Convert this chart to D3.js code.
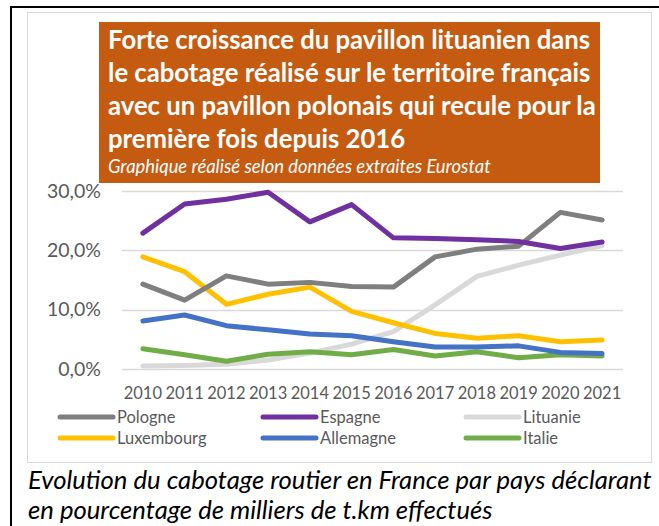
<!DOCTYPE html>
<html>
<head>
<meta charset="utf-8">
<script src="https://cdn.jsdelivr.net/npm/d3@7"></script>
<style>
  body { margin: 0; background: #fff; }
  svg { display: block; font-family: Lato, "Open Sans", sans-serif; }
</style>
</head>
<body>
<svg width="659" height="526"></svg>
<script>
// years on the category axis
var years = ["2010","2011","2012","2013","2014","2015","2016","2017","2018","2019","2020","2021"];

// share of t.km per flag, in %
var pologne    = [14.3, 11.6, 15.7, 14.3, 14.6, 13.9, 13.8, 18.9, 20.2, 20.7, 26.4, 25.1];
var espagne    = [22.9, 27.8, 28.6, 29.8, 24.8, 27.7, 22.1, 22.0, 21.8, 21.5, 20.3, 21.4];
var lituanie   = [0.5, 0.6, 0.8, 1.5, 2.7, 4.2, 6.3, 10.8, 15.6, 17.5, 19.2, 20.8];
var luxembourg = [18.9, 16.4, 10.9, 12.6, 13.8, 9.7, 7.8, 6.0, 5.2, 5.6, 4.6, 4.9];
var allemagne  = [8.1, 9.1, 7.3, 6.6, 5.9, 5.6, 4.6, 3.7, 3.7, 3.9, 2.8, 2.6];
var italie     = [3.4, 2.4, 1.3, 2.5, 2.9, 2.4, 3.3, 2.2, 2.9, 1.9, 2.4, 2.2];

var yTicks = [0, 10, 20, 30];

var titleLines = [
  "Forte croissance du pavillon lituanien dans",
  "le cabotage réalisé sur le territoire français",
  "avec un pavillon polonais qui recule pour la",
  "première fois depuis 2016"
];
var subTitle = "Graphique réalisé selon données extraites Eurostat";
var captionLines = [
  "Evolution du cabotage routier en France par pays déclarant",
  "en pourcentage de milliers de t.km effectués"
];

var series = [
  {name: "Pologne",    values: pologne,    color: "#7f7f7f"},
  {name: "Espagne",    values: espagne,    color: "#7030a0"},
  {name: "Lituanie",   values: lituanie,   color: "#d9d9d9"},
  {name: "Luxembourg", values: luxembourg, color: "#ffc000"},
  {name: "Allemagne",  values: allemagne,  color: "#4472c4"},
  {name: "Italie",     values: italie,     color: "#70ad47"}
];
// order in which the lines are painted (first = bottom)
var drawOrder = ["Lituanie", "Italie", "Allemagne", "Luxembourg", "Pologne", "Espagne"];

var svg = d3.select("svg");

// font size that makes a text node span a given width
function fitSize(sel, target) {
  var size = parseFloat(sel.attr("font-size"));
  var w = sel.node().getComputedTextLength();
  return size * target / w;
}

// outer black frame (top and left edges only)
svg.append("path")
    .attr("d", "M11,526V7H659")
    .attr("fill", "none")
    .attr("stroke", "#000")
    .attr("stroke-width", 2);

// light chart frame
svg.append("rect")
    .attr("x", 27.5).attr("y", 12.5)
    .attr("width", 624).attr("height", 450)
    .attr("fill", "#fff")
    .attr("stroke", "#d9d9d9");

// scales
var x = d3.scaleBand().domain(years).range([122, 623]);
var y = d3.scaleLinear().domain([0, 30]).range([369, 191]);
var cx = function(d) { return x(d) + x.bandwidth() / 2; };

// grid lines
svg.append("g").selectAll("line")
    .data(yTicks)
    .enter().append("line")
    .attr("x1", 122).attr("x2", 623)
    .attr("y1", function(d) { return Math.round(y(d)) + 0.5; })
    .attr("y2", function(d) { return Math.round(y(d)) + 0.5; })
    .attr("stroke", "#d9d9d9")
    .attr("stroke-width", 1.5);

// y tick labels
svg.append("g").selectAll("text")
    .data(yTicks)
    .enter().append("text")
    .attr("x", 101)
    .attr("y", function(d) { return y(d); })
    .attr("dy", "0.35em")
    .attr("text-anchor", "end")
    .attr("font-size", 19.5)
    .attr("fill", "#595959")
    .text(function(d) { return d3.format(".1f")(d).replace(".", ",") + "%"; });

// x tick labels
svg.append("g").selectAll("text")
    .data(years)
    .enter().append("text")
    .attr("x", cx)
    .attr("y", 399)
    .attr("text-anchor", "middle")
    .attr("font-size", 16.5)
    .attr("fill", "#595959")
    .text(function(d) { return d; });

// lines
var line = d3.line()
    .x(function(d, i) { return cx(years[i]); })
    .y(function(d) { return y(d); });

svg.append("g").selectAll("path")
    .data(drawOrder.map(function(n) { return series.find(function(s) { return s.name == n; }); }))
    .enter().append("path")
    .attr("d", function(d) { return line(d.values); })
    .attr("fill", "none")
    .attr("stroke", function(d) { return d.color; })
    .attr("stroke-width", 5)
    .attr("stroke-linejoin", "round")
    .attr("stroke-linecap", "round");

// legend, 3 columns x 2 rows
var legend = svg.append("g").selectAll("g")
    .data(series)
    .enter().append("g")
    .attr("transform", function(d, i) {
        return "translate(" + (58 + (i % 3) * 203) + "," + (417 + Math.floor(i / 3) * 21) + ")";
    });

legend.append("line")
    .attr("x1", 2).attr("x2", 55)
    .attr("stroke", function(d) { return d.color; })
    .attr("stroke-width", 5)
    .attr("stroke-linecap", "round");

legend.append("text")
    .attr("x", 59)
    .attr("dy", "0.36em")
    .attr("font-size", 16.5)
    .attr("fill", "#595959")
    .text(function(d) { return d.name; });

// title box
svg.append("rect")
    .attr("x", 99).attr("y", 22)
    .attr("width", 501).attr("height", 161)
    .attr("fill", "#c55a11");

var titles = svg.append("g").selectAll("text")
    .data(titleLines)
    .enter().append("text")
    .attr("x", 108)
    .attr("y", function(d, i) { return 49 + i * 33; })
    .attr("font-size", 22)
    .attr("font-weight", "bold")
    .attr("fill", "#fff")
    .text(function(d) { return d; });
titles.attr("font-size", fitSize(titles.filter(function(d, i) { return i == 0; }), 482).toFixed(2));

var sub = svg.append("text")
    .attr("x", 108)
    .attr("y", 173)
    .attr("font-size", 15)
    .attr("font-style", "italic")
    .attr("fill", "#fff")
    .text(subTitle);
sub.attr("font-size", fitSize(sub, 383).toFixed(2));

// caption under the chart
var captions = svg.append("g").selectAll("text")
    .data(captionLines)
    .enter().append("text")
    .attr("x", 28)
    .attr("y", function(d, i) { return 489 + i * 30; })
    .attr("font-size", 22)
    .attr("font-style", "italic")
    .attr("fill", "#000")
    .text(function(d) { return d; });
captions.attr("font-size", fitSize(captions.filter(function(d, i) { return i == 0; }), 624).toFixed(2));
</script>
</body>
</html>
